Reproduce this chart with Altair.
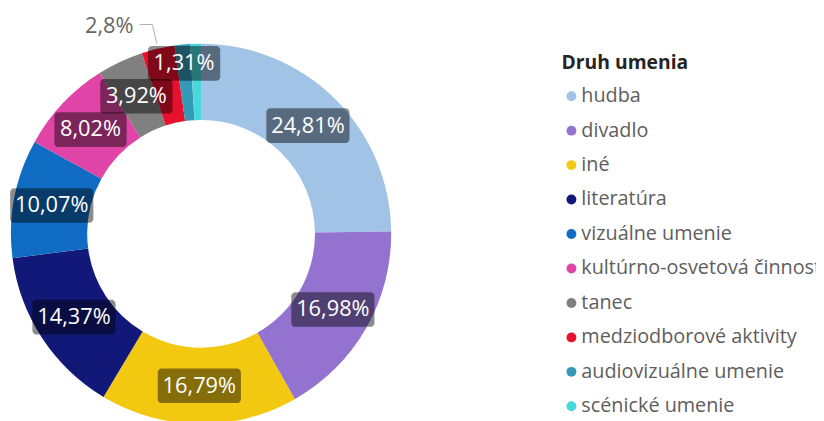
import altair as alt
import pandas as pd

categories = ["hudba", "divadlo", "iné", "literatúra", "vizuálne umenie",
              "kultúrno-osvetová činnosť", "tanec", "medziodborové aktivity",
              "audiovizuálne umenie", "scénické umenie"]
values = [24.81, 16.98, 16.79, 14.37, 10.07, 8.02, 3.92, 2.80, 1.31, 0.93]
colors = ["#A0C3E6", "#9373CF", "#F2C811", "#111878", "#0F6CC2",
          "#E044A7", "#808080", "#E8112D", "#3599B8", "#48D8DB"]
inside_labels = ["hudba", "divadlo", "iné", "literatúra", "vizuálne umenie",
                 "kultúrno-osvetová činnosť", "tanec", "audiovizuálne umenie"]
outside_labels = ["medziodborové aktivity"]

labels = [f"{v:g}".replace(".", ",") + "%" for v in values]
df = pd.DataFrame({"cat": categories, "value": values,
                   "idx": list(range(len(categories))), "label": labels})

FONT = "Segoe UI, Open Sans"
CX, CY = 195, 226
R_OUT, R_IN = 192, 115

base = (alt.Chart(df)
        .transform_window(cum="sum(value)", sort=[{"field": "idx"}], frame=[None, 0])
        .transform_joinaggregate(total="sum(value)")
        .transform_calculate(mid="2*PI*(datum.cum - datum.value/2)/datum.total"))

arcs = alt.Chart(df).mark_arc(outerRadius=R_OUT, innerRadius=R_IN).encode(
    theta=alt.Theta("value:Q", stack=True),
    color=alt.Color("cat:N", scale=alt.Scale(domain=categories, range=colors),
                    legend=alt.Legend(orient="none", legendX=559, legendY=45,
                                      title="Druh umenia", titleFont=FONT,
                                      titleFontSize=19.5, titleFontWeight="bold",
                                      titleColor="#252423", labelFont=FONT,
                                      labelFontSize=20, labelColor="#605E5C",
                                      symbolType="circle", symbolSize=100,
                                      symbolStrokeWidth=0, rowPadding=14.8,
                                      titlePadding=12.5, labelOffset=0,
                                      labelLimit=400, padding=0, offset=0)),
    order=alt.Order("idx:Q"),
    x=alt.value(CX), y=alt.value(CY),
)

inside = (base.transform_filter(alt.FieldOneOfPredicate(field="cat", oneOf=inside_labels))
          .transform_calculate(
              r="datum.cat == 'audiovizuálne umenie' ? 173 : 153.5",
          ).transform_calculate(
              xc=f"{CX} + datum.r*sin(datum.mid)",
              yc=f"{CY} - datum.r*cos(datum.mid)",
              w="11*length(datum.label) + 18",
          ).transform_calculate(
              x1="datum.xc - datum.w/2", x2="datum.xc + datum.w/2",
              y1="datum.yc - 17.5", y2="datum.yc + 17.5",
          ))

boxes = inside.mark_rect(color="black", opacity=0.45, cornerRadius=4).encode(
    x=alt.X("x1:Q", scale=None, axis=None), x2="x2:Q",
    y=alt.Y("y1:Q", scale=None, axis=None), y2="y2:Q",
)
texts = inside.mark_text(color="white", font=FONT, fontSize=22, baseline="middle",
                         align="center").encode(
    x=alt.X("xc:Q", scale=None, axis=None),
    y=alt.Y("yc:Q", scale=None, axis=None),
    text="label:N",
)

outside = (base.transform_filter(alt.FieldOneOfPredicate(field="cat", oneOf=outside_labels))
           .transform_calculate(
               ex=f"{CX} + {R_OUT + 5}*sin(datum.mid)",
               ey=f"{CY} - {R_OUT + 5}*cos(datum.mid)",
               kx=f"{CX} + {R_OUT + 25}*sin(datum.mid)",
               ky=f"{CY} - {R_OUT + 25}*cos(datum.mid)",
           ).transform_calculate(hx="datum.kx - 13", tx="datum.kx - 19"))

lead1 = outside.mark_rule(color="#B0B0B0", strokeWidth=1).encode(
    x=alt.X("ex:Q", scale=None, axis=None), x2="kx:Q",
    y=alt.Y("ey:Q", scale=None, axis=None), y2="ky:Q",
)
lead2 = outside.mark_rule(color="#B0B0B0", strokeWidth=1).encode(
    x=alt.X("hx:Q", scale=None, axis=None), x2="kx:Q",
    y=alt.Y("ky:Q", scale=None, axis=None),
)
otext = outside.mark_text(color="#666666", font=FONT, fontSize=22, baseline="middle",
                          align="right", dy=2).encode(
    x=alt.X("tx:Q", scale=None, axis=None),
    y=alt.Y("ky:Q", scale=None, axis=None),
    text="label:N",
)

chart = alt.layer(arcs, boxes, texts, lead1, lead2, otext).properties(
    width=816, height=413, padding=0,
    autosize=alt.AutoSizeParams(type="none"),
).configure_view(stroke=None)

chart.save("out.html", embed_options={"renderer": "svg", "actions": False})
